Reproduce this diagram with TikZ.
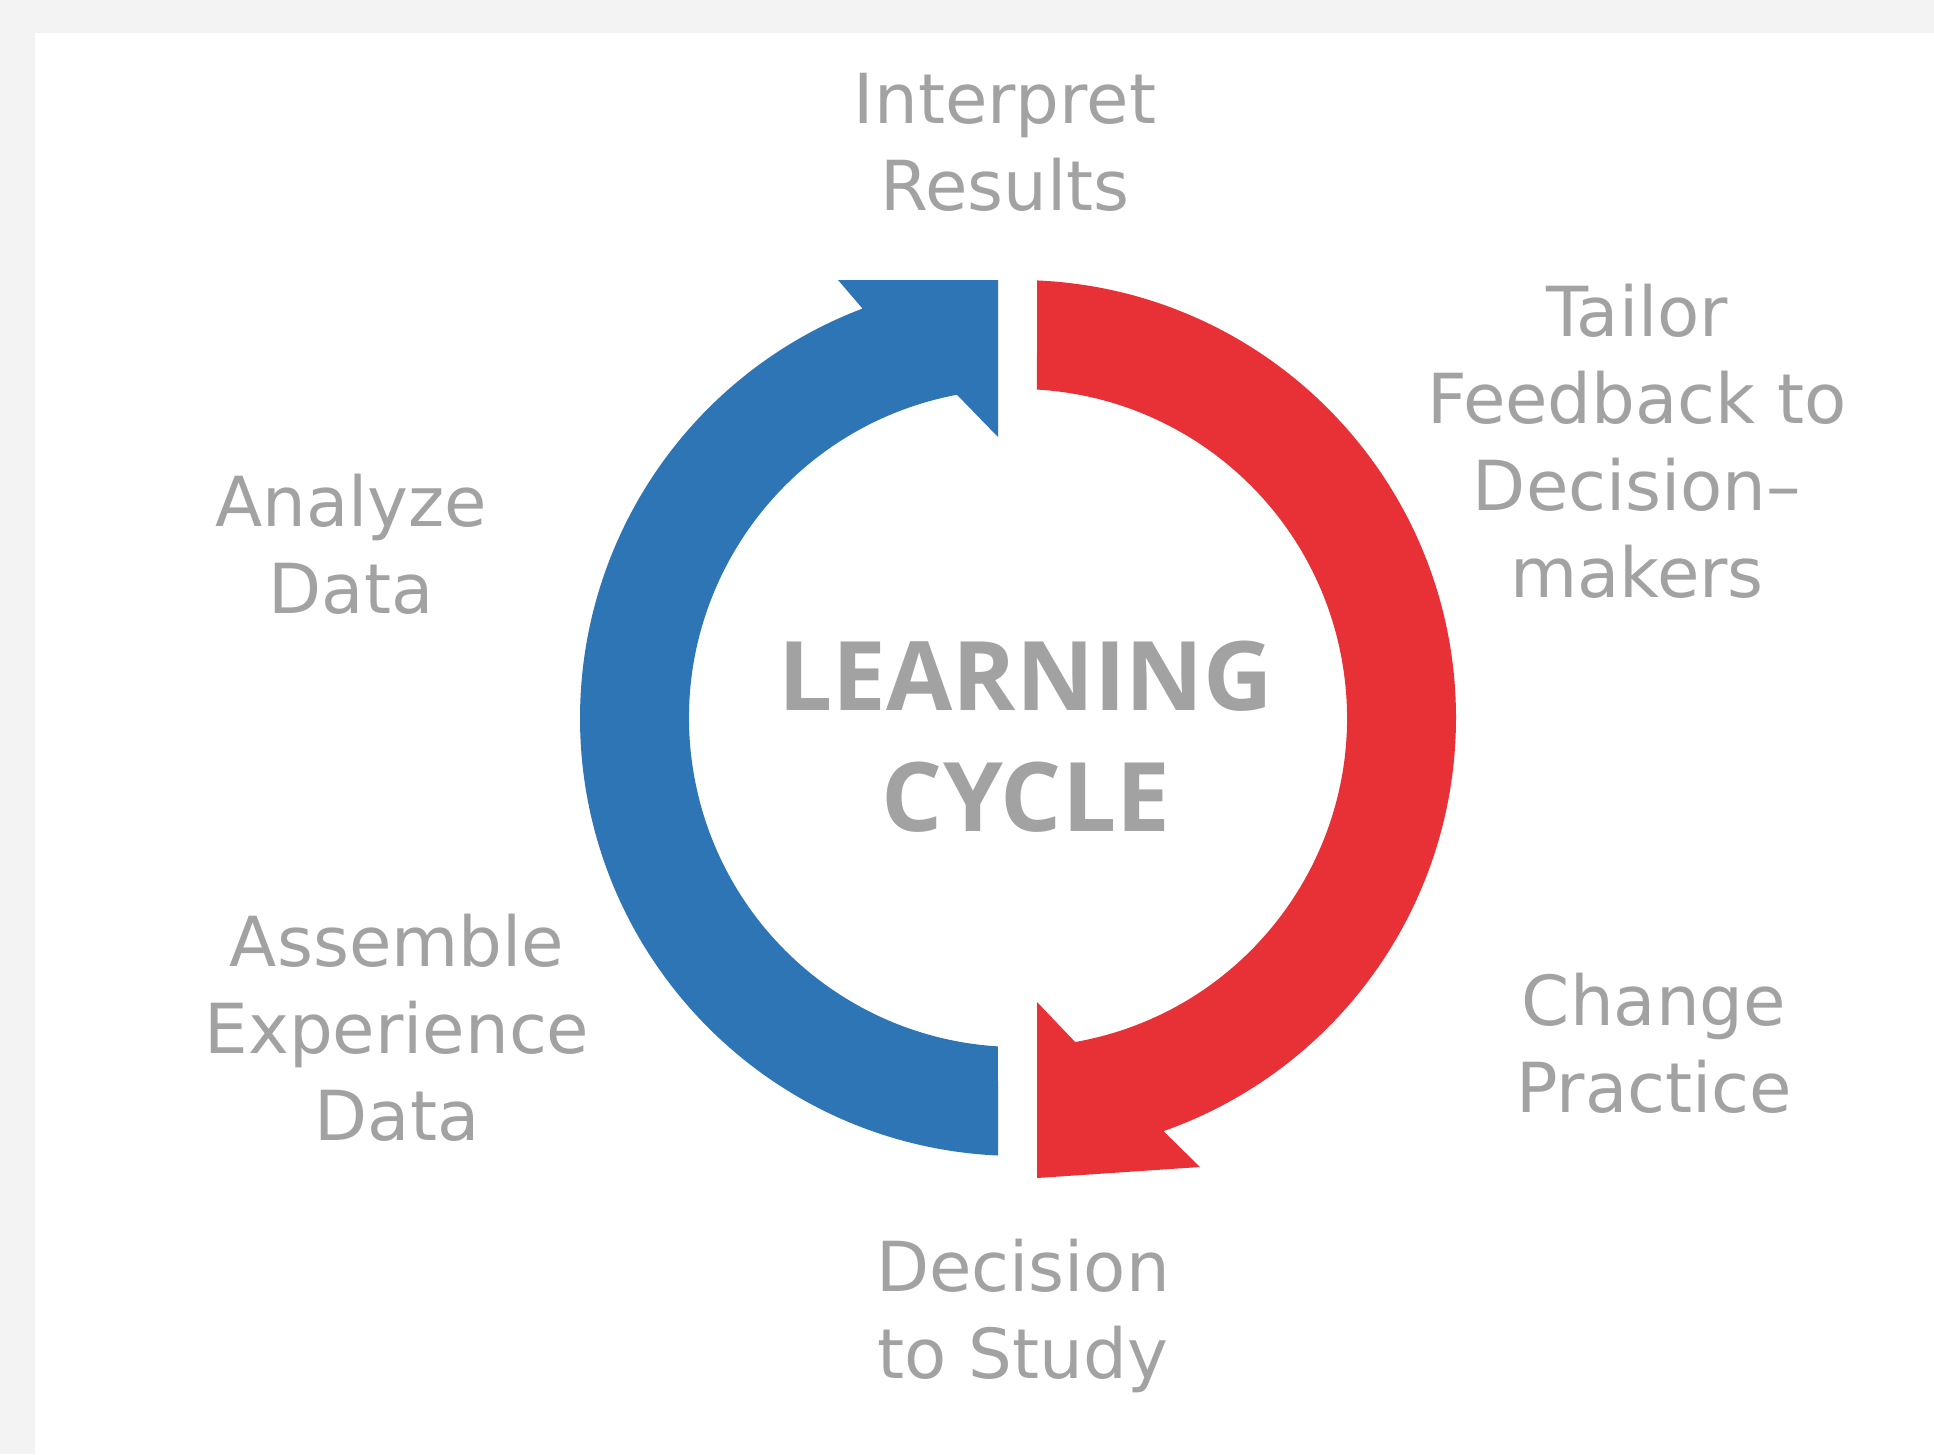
\documentclass[tikz,border=0pt]{standalone}
\usepackage{fontspec}
\setmainfont{DejaVu Sans}
\newfontfamily\headfont{Open Sans}
\usetikzlibrary{calc}

\definecolor{cycblue}{HTML}{2E75B6}
\definecolor{cycred}{HTML}{E83137}
\definecolor{txtgray}{HTML}{A2A2A2}
\definecolor{pagegray}{HTML}{F3F3F3}

\begin{document}
\begin{tikzpicture}[x=1pt,y=-1pt,
  lbl/.style={align=center,text=txtgray,inner sep=0pt,anchor=base,
    font=\fontsize{69}{87}\selectfont},
  ttl/.style={align=center,text=txtgray,inner sep=0pt,anchor=base,
    font=\headfont\bfseries\fontsize{96}{121}\selectfont}]

\useasboundingbox (0,0) rectangle (1934,1454);
\fill[pagegray] (0,0) rectangle (1934,1454);
\fill[white] (35,33) rectangle (1934,1454);

\coordinate (c) at (1018,718);

% blue half, head at the top
\fill[cycblue] ($(c)+(93.5:329)$) -- ($(c)+(92.6:438)$)
   arc[start angle=92.6, end angle=249.2, radius=438]
   -- (838,280) -- (998,280) -- (998,437) -- ($(c)+(259.3:329)$)
   arc[start angle=259.3, end angle=93.5, radius=329] -- cycle;

% red half, head at the bottom
\fill[cycred] ($(c)+(273.3:329)$) -- ($(c)+(272.5:438)$)
   arc[start angle=272.5, end angle=430.6, radius=438]
   -- (1200,1167) -- (1037,1178) -- (1037,1002) -- ($(c)+(80:329)$)
   arc[start angle=440, end angle=273.3, radius=329] -- cycle;

% labels sit on the baseline of their last line
\node[ttl] (learn) at (1026,831) {LEARNING\\CYCLE};

\node[lbl] (interp) at (1005,210) {Interpret\\Results};
\node[lbl] (tailor) at (1637,597) {Tailor\\Feedback to\\Decision–\\makers};
\node[lbl] (change) at (1654,1112) {Change\\Practice};
\node[lbl] (decide) at (1023,1378) {Decision\\to Study};
\node[lbl] (assemble) at (397,1140) {Assemble\\Experience\\Data};
\node[lbl] (analyze) at (351,613) {Analyze\\Data};

\end{tikzpicture}
\end{document}
